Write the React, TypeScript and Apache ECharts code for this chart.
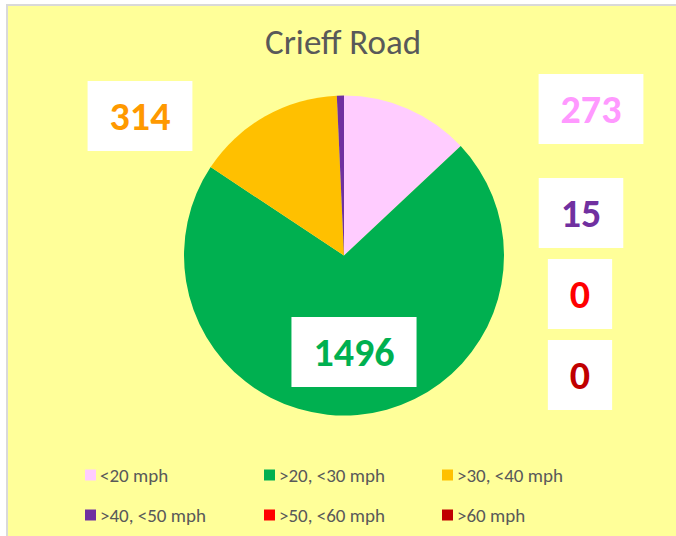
import React, { useEffect, useRef } from "react";
import * as echarts from "echarts";

const categories = ["<20 mph", ">20, <30 mph", ">30, <40 mph", ">40, <50 mph", ">50, <60 mph", ">60 mph"];
const counts = [273, 1496, 314, 15, 0, 0];
const sliceColors = ["#FFCCFF", "#00B050", "#FFC000", "#7030A0", "#FF0000", "#C00000"];
const labelColors = ["#FF99FF", "#00B050", "#FF9900", "#7030A0", "#FF0000", "#C00000"];
const titleText = "Crieff Road";

// label box centres (layout only)
const labelAnchors: [number, number][] = [
  [591, 109],
  [354, 352],
  [140, 116],
  [581, 213],
  [580, 294],
  [580, 375],
];

const FONT = 'Carlito, "Open Sans", sans-serif';

export default function App() {
  const ref = useRef<HTMLDivElement>(null);
  useEffect(() => {
    if (!ref.current) return;
    const chart = echarts.init(ref.current, undefined, { renderer: "svg" });
    const data = categories.map((name, i) => ({
      name,
      value: counts[i],
      itemStyle: { color: sliceColors[i] },
      label: { color: labelColors[i] },
    }));
    const legendCol = (idx: number[], left: number) => ({
      orient: "vertical",
      left,
      top: 465,
      padding: 0,
      itemWidth: 11,
      itemHeight: 11,
      itemGap: 20,
      icon: "rect",
      selectedMode: false,
      data: idx.map((i) => categories[i]),
      textStyle: { color: "#595959", fontSize: 19, fontFamily: FONT, lineHeight: 20, padding: [0, 0, 0, -1] },
    });
    chart.setOption({
      animation: false,
      backgroundColor: "#ffffff",
      graphic: [
        {
          type: "rect",
          z: -10,
          silent: true,
          shape: { x: 7, y: 5, width: 720, height: 600 },
          style: { fill: "#FFFF99", stroke: "#D9D9D9", lineWidth: 2 },
        },
      ],
      title: {
        text: titleText,
        left: 265,
        top: 24,
        padding: 0,
        textStyle: { color: "#595959", fontSize: 35, fontWeight: "normal", fontFamily: FONT },
      },
      legend: [legendCol([0, 3], 85), legendCol([1, 4], 264), legendCol([2, 5], 442)],
      series: [
        {
          type: "pie",
          center: [344, 255.5],
          radius: [0, 160],
          startAngle: 90,
          clockwise: true,
          avoidLabelOverlap: false,
          minShowLabelAngle: 0,
          data,
          itemStyle: { borderWidth: 0 },
          emphasis: { disabled: true },
          labelLine: { show: false },
          label: {
            show: true,
            position: "inside",
            formatter: "{c}",
            fontFamily: FONT,
            fontWeight: "bold",
            fontSize: 40,
            lineHeight: 44,
            backgroundColor: "#FFFFFF",
            padding: [13, 22, 13, 22],
          },
          labelLayout: (params: any) => {
            const p = labelAnchors[params.dataIndex];
            return { x: p[0], y: p[1], align: "center", verticalAlign: "middle" };
          },
        },
      ],
    });
    return () => chart.dispose();
  }, []);
  return <div ref={ref} style={{ position: "absolute", left: 0, top: 0, width: 676, height: 536 }} />;
}
